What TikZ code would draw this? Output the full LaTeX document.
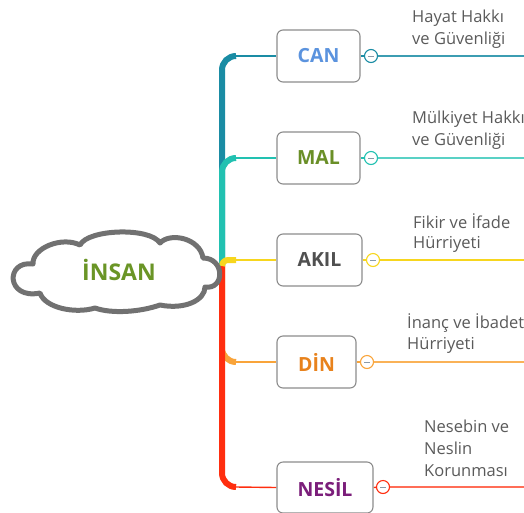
\documentclass[tikz,border=0pt]{standalone}
\usepackage{fontspec}
\setmainfont{Open Sans}
\pgfdeclarelayer{links}
\pgfsetlayers{links,main}

\definecolor{canc}{HTML}{1A8CA4}
\definecolor{malc}{HTML}{22C1B1}
\definecolor{akilc}{HTML}{F7D61E}
\definecolor{dinc}{HTML}{F9A43A}
\definecolor{nesilc}{HTML}{FF2E0F}
\definecolor{cantext}{HTML}{5B93DE}
\definecolor{maltext}{HTML}{6A8F27}
\definecolor{akiltext}{HTML}{505050}
\definecolor{dintext}{HTML}{E8821C}
\definecolor{nesiltext}{HTML}{7B1E7A}
\definecolor{insantext}{HTML}{6A9526}
\definecolor{boxgray}{HTML}{8C8C8C}
\definecolor{cloudgray}{HTML}{717171}
\definecolor{notegray}{HTML}{5A5A5A}
\definecolor{minusgray}{HTML}{8A9AA8}

\tikzset{
  topic/.style={draw=boxgray, line width=1.1pt, rounded corners=6pt, fill=white,
    font=\bfseries\fontsize{19.5}{22}\selectfont, inner sep=0pt},
  fold/.style={circle, draw, fill=white, line width=1.1pt, minimum size=13pt, inner sep=0pt,
    path picture={\draw[minusgray, line width=0.9pt]
      ([xshift=-3pt]path picture bounding box.center) --
      ([xshift=3pt]path picture bounding box.center);}},
  note/.style={text=notegray, align=left, anchor=base west, inner sep=0pt},
  trunk/.style={line width=6pt, rounded corners=14pt},
  twig/.style={line width=1.4pt},
  cloudline/.style={draw=cloudgray, line width=5pt, fill=white, line join=round},
}

\begin{document}
\begin{tikzpicture}[x=1pt,y=-1pt]
\useasboundingbox (0,0) rectangle (524,512);
\clip (0,0) rectangle (524,512);

% central topic: a cloud outline built from eight puffs
\draw[cloudline]
  (40,293) .. controls (6,300) and (5,260) .. (33,264)     % left puff
           .. controls (32,248) and (62,236) .. (80,245)   % upper left
           .. controls (88,229) and (150,227) .. (160,243) % top
           .. controls (170,232) and (200,238) .. (203,258)% upper right
           .. controls (225,258) and (225,290) .. (205,287)% right puff
           .. controls (205,300) and (185,310) .. (160,305)% lower right
           .. controls (140,312) and (112,314) .. (95,308) % bottom
           .. controls (75,314) and (45,308) .. (40,293)   % lower left
  -- cycle;
\node[anchor=base, inner sep=0pt, text=insantext,
  font=\bfseries\fontsize{23}{26}\selectfont] (insan) at (119,280) {İNSAN};
\coordinate (hub) at (222,266);

% main topics
\node[topic, minimum width=83pt, minimum height=52pt, text=cantext]   (can)   at (318.5,56)  {CAN};
\node[topic, minimum width=83pt, minimum height=52pt, text=maltext]   (mal)   at (318.5,158) {MAL};
\node[topic, minimum width=85pt, minimum height=52pt, text=akiltext]  (akil)  at (319.5,260) {AKIL};
\node[topic, minimum width=79pt, minimum height=52pt, text=dintext]   (din)   at (316.5,362) {DİN};
\node[topic, minimum width=96pt, minimum height=51pt, text=nesiltext] (nesil) at (325,487.5) {NESİL};

% collapse buttons
\node[fold, draw=canc]   (canf)   at (371,56)  {};
\node[fold, draw=malc]   (malf)   at (371,158) {};
\node[fold, draw=akilc]  (akilf)  at (373,260) {};
\node[fold, draw=dinc]   (dinf)   at (367,362) {};
\node[fold, draw=nesilc] (nesilf) at (383,487) {};

% branch ends
\coordinate (canb) at (236,56);   \coordinate (cane) at (524,56);
\coordinate (malb) at (236,158);  \coordinate (male) at (524,158);
\coordinate (akilb) at (236,260); \coordinate (akile) at (524,260);
\coordinate (dinb) at (236,362);  \coordinate (dine) at (524,362);
\coordinate (nesilb) at (236,487);\coordinate (nesile) at (524,487);

% subtopic notes (placed by the baseline of their last line)
\node[note, font=\fontsize{16.5}{22}\selectfont] (n1) at (412,44)  {Hayat Hakkı\\ve Güvenliği};
\node[note, font=\fontsize{16.5}{22}\selectfont] (n2) at (412,145) {Mülkiyet Hakkı\\ve Güvenliği};
\node[note, font=\fontsize{16.5}{20}\selectfont] (n3) at (413,248) {Fikir ve İfade\\Hürriyeti};
\node[note, font=\fontsize{16.5}{21}\selectfont] (n4) at (407,349) {İnanç ve İbadet\\Hürriyeti};
\node[note, font=\fontsize{16.5}{22}\selectfont] (n5) at (424,476) {Nesebin ve\\Neslin\\Korunması};

\begin{pgfonlayer}{links}
  % trunk branches, drawn back to front
  \draw[trunk, canc]   (hub) |- (canb);
  \draw[trunk, malc]   (hub) |- (malb);
  \draw[trunk, dinc]   (hub) |- (dinb);
  \draw[trunk, nesilc] (hub) |- (nesilb);
  \draw[trunk, akilc, rounded corners=6pt] (hub) |- (akilb);
  % thin links into the topics
  \draw[twig, canc]   (canb) -- (can.west);
  \draw[twig, malc]   (malb) -- (mal.west);
  \draw[twig, akilc]  (akilb) -- (akil.west);
  \draw[twig, dinc]   (dinb) -- (din.west);
  \draw[twig, nesilc] (nesilb) -- (nesil.west);
  % topic to button
  \draw[twig, canc]   (can.east) -- (canf);
  \draw[twig, malc]   (mal.east) -- (malf);
  \draw[twig, akilc]  (akil.east) -- (akilf);
  \draw[twig, dinc]   (din.east) -- (dinf);
  \draw[twig, nesilc] (nesil.east) -- (nesilf);
  % button to subtopic line
  \draw[twig, canc!85!white]   (canf) -- (cane);
  \draw[twig, malc!75!white]   (malf) -- (male);
  \draw[twig, akilc]           (akilf) -- (akile);
  \draw[twig, dinc!85!white]   (dinf) -- (dine);
  \draw[twig, nesilc!70!white] (nesilf) -- (nesile);
\end{pgfonlayer}
\end{tikzpicture}
\end{document}
